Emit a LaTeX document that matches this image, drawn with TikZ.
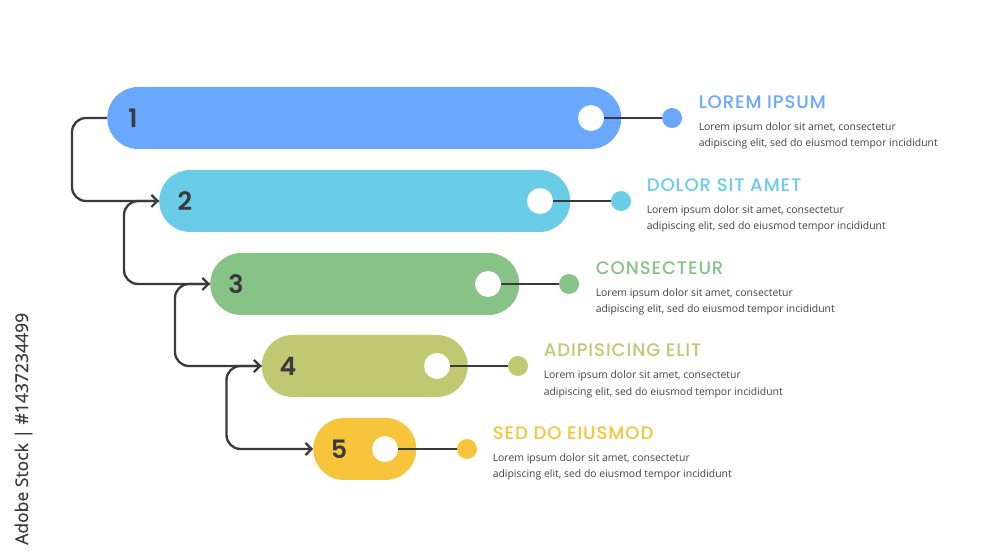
\documentclass[tikz,border=0pt]{standalone}
\usepackage{fontspec}
\setmainfont{Open Sans}
\newfontfamily\titlefont[LetterSpace=5]{Poppins Medium}
\newfontfamily\numfont{Poppins SemiBold}
\newfontfamily\sidefont[FakeBold=0.4]{Open Sans}
\usetikzlibrary{arrows.meta}
\definecolor{cblue}{HTML}{6AA8FF}
\definecolor{ccyan}{HTML}{69CDE8}
\definecolor{cgreen}{HTML}{87C287}
\definecolor{colive}{HTML}{C1C872}
\definecolor{cyellow}{HTML}{F6C53B}
\definecolor{cdark}{HTML}{3A3A3C}
\definecolor{ctext}{HTML}{444446}
\tikzset{
  pill/.style={rectangle,rounded corners=23.25pt,minimum height=46.5pt,inner sep=0pt,anchor=west,draw=none},
  hole/.style={circle,fill=white,minimum size=19.5pt,inner sep=0pt},
  enddot/.style={circle,minimum size=15pt,inner sep=0pt},
  numlabel/.style={font=\numfont\fontsize{19}{19}\selectfont,text=cdark,inner sep=0pt,anchor=center},
  heading/.style={font=\titlefont\fontsize{13.6}{14}\selectfont,anchor=base west,inner sep=0pt},
  bodytext/.style={font=\fontsize{7.82}{12.6}\selectfont,text=ctext,anchor=north west,inner sep=0pt,align=left},
  flow/.style={draw=cdark,line width=1.75pt,rounded corners=10.5pt,-{Straight Barb[length=4.5pt,width=9pt,line width=1.6pt]}},
  lead/.style={draw=cdark,line width=1.75pt},
}
\begin{document}
\begin{tikzpicture}[x=0.75pt,y=-0.75pt]
\useasboundingbox (0,0) rectangle (1000,559);
\fill[white] (0,0) rectangle (1000,559);
% pills
\node[pill,fill=cblue,minimum width=385.5pt] (p1) at (107,118) {};
\node[pill,fill=ccyan,minimum width=308.25pt] (p2) at (159,201) {};
\node[pill,fill=cgreen,minimum width=231.75pt] (p3) at (210,284) {};
\node[pill,fill=colive,minimum width=154.5pt] (p4) at (261.5,366) {};
\node[pill,fill=cyellow,minimum width=77.25pt] (p5) at (313,449) {};
% numbers
\node[numlabel] (n1) at (133,118) {1};
\node[numlabel] (n2) at (185,201) {2};
\node[numlabel] (n3) at (236,284) {3};
\node[numlabel] (n4) at (288,366) {4};
\node[numlabel] (n5) at (339,449) {5};
% holes
\node[hole] (h1) at (591,118) {};
\node[hole] (h2) at (540,201) {};
\node[hole] (h3) at (488,284) {};
\node[hole] (h4) at (437,366) {};
\node[hole] (h5) at (385,449) {};
% end dots
\node[enddot,fill=cblue] (d1) at (672,118) {};
\node[enddot,fill=ccyan] (d2) at (621,201) {};
\node[enddot,fill=cgreen] (d3) at (569,284) {};
\node[enddot,fill=colive] (d4) at (518,366) {};
\node[enddot,fill=cyellow] (d5) at (467,449) {};
% leads
\foreach \i in {1,...,5} \draw[lead] (h\i.east) -- (d\i.west);
% flow corners
\coordinate (c1a) at (72,118);  \coordinate (c1b) at (72,201);
\coordinate (c2a) at (124,201); \coordinate (c2b) at (124,284);
\coordinate (c3a) at (175,284); \coordinate (c3b) at (175,366);
\coordinate (c4a) at (226.5,366); \coordinate (c4b) at (226.5,449);
\draw[flow] (p1.west) -- (c1a) -- (c1b) -- (p2.west);
\draw[flow] (p2.west) -- (c2a) -- (c2b) -- (p3.west);
\draw[flow] (p3.west) -- (c3a) -- (c3b) -- (p4.west);
\draw[flow] (p4.west) -- (c4a) -- (c4b) -- (p5.west);
% headings
\node[heading,text=cblue] (t1) at (698.5,108.5) {LOREM IPSUM};
\node[heading,text=ccyan] (t2) at (646.5,191.5) {DOLOR SIT AMET};
\node[heading,text=cgreen] (t3) at (595.5,274.5) {CONSECTEUR};
\node[heading,text=colive] (t4) at (543.5,356.5) {ADIPISICING ELIT};
\node[heading,text=cyellow] (t5) at (492.5,439.5) {SED DO EIUSMOD};
% bodies
\node[bodytext] (b1) at (698.5,122) {Lorem ipsum dolor sit amet, consectetur\\adipiscing elit, sed do eiusmod tempor incididunt};
\node[bodytext] (b2) at (646.5,205) {Lorem ipsum dolor sit amet, consectetur\\adipiscing elit, sed do eiusmod tempor incididunt};
\node[bodytext] (b3) at (595.5,288) {Lorem ipsum dolor sit amet, consectetur\\adipiscing elit, sed do eiusmod tempor incididunt};
\node[bodytext] (b4) at (543.5,370.5) {Lorem ipsum dolor sit amet, consectetur\\adipiscing elit, sed do eiusmod tempor incididunt};
\node[bodytext] (b5) at (492.5,453) {Lorem ipsum dolor sit amet, consectetur\\adipiscing elit, sed do eiusmod tempor incididunt};
% side label
\node[rotate=90,anchor=base west,inner sep=0pt,text=cdark,font=\sidefont\fontsize{13.15}{14}\selectfont] (side) at (28,545) {Adobe Stock | \#1437234499};
\end{tikzpicture}
\end{document}
